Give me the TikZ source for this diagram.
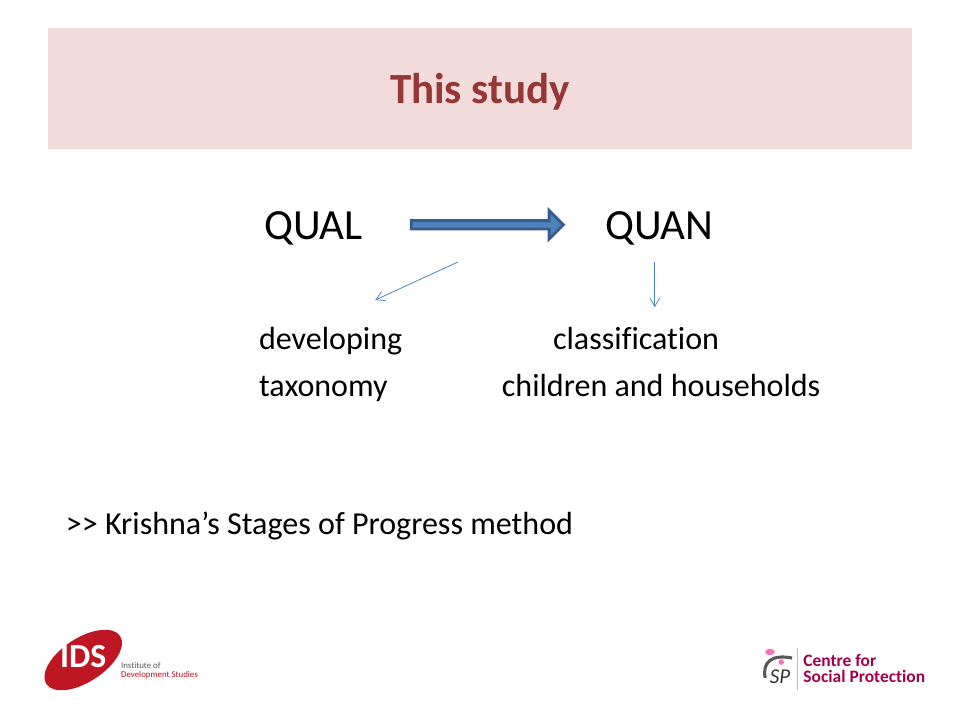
\documentclass[tikz,border=0pt]{standalone}
\usepackage{fontspec}
\setmainfont[Ligatures=NoCommon]{Carlito}
\usetikzlibrary{positioning,arrows.meta,shapes.geometric,shapes.arrows}
\definecolor{bandpink}{RGB}{242,220,219}
\definecolor{titlered}{RGB}{149,55,53}
\definecolor{arrowblue}{RGB}{79,129,189}
\definecolor{arrowedge}{RGB}{56,93,138}
\definecolor{idsred}{RGB}{190,22,34}
\definecolor{csppink}{RGB}{160,0,80}
\tikzset{
  head text/.style={anchor=base west,inner sep=0pt,font=\fontsize{30.6}{36}\selectfont},
  body text/.style={anchor=base west,inner sep=0pt,font=\fontsize{22.8}{27}\selectfont},
  logo text/.style={anchor=base west,inner sep=0pt,font=\fontsize{6.3}{7}\selectfont},
  csp text/.style={anchor=base west,inner sep=0pt,text=csppink,font=\fontsize{12.4}{14}\selectfont\bfseries},
  thin arrow/.style={draw=arrowblue,line width=0.55pt,-{Straight Barb[length=6pt,width=7pt]}}
}
\begin{document}
\begin{tikzpicture}
  \useasboundingbox (0,0) rectangle (24,18);
  \fill[white] (0,0) rectangle (24,18);
  \node[fill=bandpink,minimum width=21.6cm,minimum height=3.025cm,inner sep=0pt] (band) at (12,15.79) {};
  \node[inner sep=0pt,text=titlered,font=\fontsize{30.6}{36}\selectfont\bfseries] (title) at (12,15.7) {This study};
  \node[head text] (qual) at (6.6,12.02) {QUAL};
  \node[head text] (quan) at (15.12,12.02) {QUAN};
  \node[single arrow,draw=arrowedge,fill=arrowblue,line width=2pt,minimum width=0.56cm,
        single arrow head indent=0pt,minimum height=3.8cm,inner xsep=0pt,inner ysep=0.07cm] (main) at (12.13,12.38) {};
  \coordinate (qualfrom) at (11.45,11.45);
  \coordinate (qualto) at (9.38,10.5);
  \coordinate (quanfrom) at (16.37,11.45);
  \coordinate (quanto) at (16.37,10.32);
  \draw[thin arrow] (qualfrom) -- (qualto);
  \draw[thin arrow] (quanfrom) -- (quanto);
  \node[body text] (dev) at (6.47,9.27) {developing};
  \node[body text] (tax) at (6.47,8.1) {taxonomy};
  \node[body text] (cla) at (13.82,9.27) {classification};
  \node[body text] (chi) at (12.54,8.1) {children and households};
  \node[body text] (kri) at (1.64,4.64) {>{}> Krishna’s Stages of Progress method};
  % IDS logo
  \node[ellipse,fill=idsred,rotate=33,minimum width=2.2cm,minimum height=1.1cm,inner sep=0pt] (idslogo) at (2.08,1.5) {};
  \node[inner sep=0pt,text=white,font=\fontsize{24}{26}\selectfont\bfseries] (idstext) at (2.08,1.58) {IDS};
  \node[logo text,text=black!65] (inst) at (3.02,1.3) {Institute of};
  \node[logo text,text=idsred] (devst) at (3.02,1.06) {Development Studies};
  % CSP logo
  \draw[black!65,line width=2.2pt] (19.13,1.05) .. controls (19.05,1.45) and (19.3,1.65) .. (19.8,1.55);
  \fill[magenta!55!white] (19.25,1.7) ellipse (0.12 and 0.08);
  \fill[magenta!55!white] (19.53,1.45) circle (0.07);
  \node[inner sep=0pt,text=black!80,font=\fontsize{15}{16}\selectfont\itshape] (csptext) at (19.5,1.08) {SP};
  \draw[black!25,line width=0.6pt] (19.93,0.75) -- (19.93,1.8);
  \node[csp text] (cen) at (20.08,1.33) {Centre for};
  \node[csp text] (soc) at (20.08,0.93) {Social Protection};
\end{tikzpicture}
\end{document}
